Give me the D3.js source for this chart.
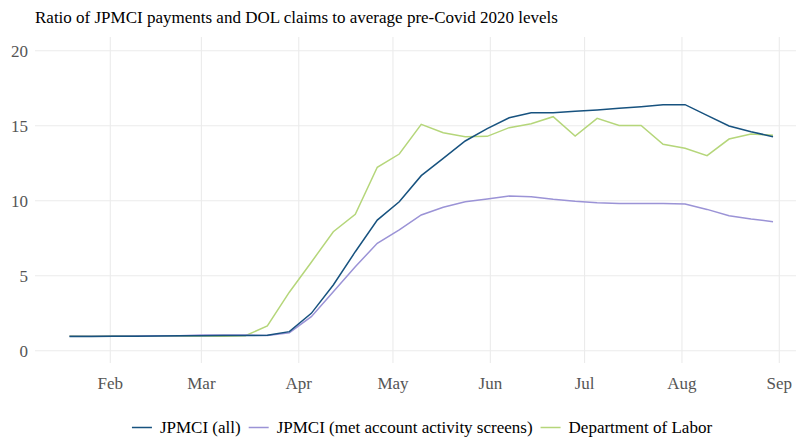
<!DOCTYPE html>
<html>
<head>
<meta charset="utf-8">
<script src="https://cdn.jsdelivr.net/npm/d3@7"></script>
<style>
  body { margin: 0; background: #fff; }
  svg { display: block; }
  svg text { font-family: "Liberation Serif", serif; }
</style>
</head>
<body>
<svg></svg>
<script>
// weekly dates (Sundays), 2020
const dates = ["2020-01-19","2020-01-26","2020-02-02","2020-02-09","2020-02-16","2020-02-23",
  "2020-03-01","2020-03-08","2020-03-15","2020-03-22","2020-03-29","2020-04-05","2020-04-12",
  "2020-04-19","2020-04-26","2020-05-03","2020-05-10","2020-05-17","2020-05-24","2020-05-31",
  "2020-06-07","2020-06-14","2020-06-21","2020-06-28","2020-07-05","2020-07-12","2020-07-19",
  "2020-07-26","2020-08-02","2020-08-09","2020-08-16","2020-08-23","2020-08-30"];

const jpmciAll = [0.95,0.95,0.96,0.97,0.98,0.99,1.0,1.01,1.01,1.03,1.27,2.49,4.38,6.6,8.71,9.93,
  11.67,12.82,13.98,14.8,15.53,15.87,15.87,15.96,16.05,16.16,16.27,16.4,16.4,15.69,14.98,14.6,14.27];
const jpmciScreened = [0.96,0.96,0.97,0.98,0.99,1.0,1.05,1.05,1.04,1.01,1.2,2.27,3.93,5.6,7.16,8.05,
  9.05,9.56,9.93,10.11,10.31,10.27,10.09,9.96,9.87,9.82,9.82,9.82,9.78,9.42,9.0,8.78,8.6];
const dol = [0.99,0.98,0.99,0.99,0.98,0.97,0.98,0.97,1.0,1.65,3.9,5.9,7.93,9.09,12.23,13.11,
  15.09,14.53,14.27,14.29,14.87,15.13,15.6,14.31,15.49,15.02,15.02,13.76,13.49,13.0,14.11,14.45,14.36];

const seriesNames = ["JPMCI (all)", "JPMCI (met account activity screens)", "Department of Labor"];
const seriesColors = ["#17527f", "#9b93d6", "#b5d67a"];
const yTicks = [0, 5, 10, 15, 20];
const monthTicks = ["2020-02-01","2020-03-01","2020-04-01","2020-05-01","2020-06-01","2020-07-01","2020-08-01","2020-09-01"];

const W = 796, H = 437;
const svg = d3.select("svg").attr("width", W).attr("height", H);

const parse = d3.timeParse("%Y-%m-%d");
const x = d3.scaleTime()
  .domain([parse("2020-02-01"), parse("2020-09-01")])
  .range([110.3, 779.3]);
const y = d3.scaleLinear().domain([0, 20]).range([350.7, 50.7]);

const plotLeft = 35, plotRight = 796, plotTop = 37, plotBottom = 363;

// gridlines
svg.append("g").selectAll("line")
  .data(yTicks).join("line")
  .attr("x1", plotLeft).attr("x2", plotRight)
  .attr("y1", d => y(d)).attr("y2", d => y(d))
  .attr("stroke", "#ebebeb").attr("stroke-width", 1.1);

svg.append("g").selectAll("line")
  .data(monthTicks).join("line")
  .attr("x1", d => x(parse(d))).attr("x2", d => x(parse(d)))
  .attr("y1", plotTop).attr("y2", plotBottom)
  .attr("stroke", "#ebebeb").attr("stroke-width", 1.1);

// axes labels
svg.append("g").selectAll("text")
  .data(yTicks).join("text")
  .attr("x", 28).attr("y", d => y(d) + 6)
  .attr("text-anchor", "end")
  .attr("font-size", 17).attr("fill", "#555")
  .text(d => d);

svg.append("g").selectAll("text")
  .data(monthTicks).join("text")
  .attr("x", d => x(parse(d))).attr("y", 389)
  .attr("text-anchor", "middle")
  .attr("font-size", 17).attr("fill", "#555")
  .text(d => d3.timeFormat("%b")(parse(d)));

// lines
const allSeries = [jpmciAll, jpmciScreened, dol];
const line = d3.line()
  .x((d, i) => x(parse(dates[i])))
  .y(d => y(d));

// draw DOL first, then screened, then all on top
[2, 1, 0].forEach(function(k) {
  svg.append("path")
    .datum(allSeries[k])
    .attr("d", line)
    .attr("fill", "none")
    .attr("stroke", seriesColors[k])
    .attr("stroke-width", 1.5);
});

// title
svg.append("text")
  .attr("x", 35).attr("y", 23)
  .attr("font-size", 17).attr("fill", "#000")
  .text("Ratio of JPMCI payments and DOL claims to average pre-Covid 2020 levels");

// legend
const legend = svg.append("g").attr("transform", "translate(0,433)");
const items = [];
seriesNames.forEach(function(name, i) {
  const g = legend.append("g");
  g.append("line").attr("x1", 0).attr("x2", 20).attr("y1", -5.5).attr("y2", -5.5)
    .attr("stroke", seriesColors[i]).attr("stroke-width", 1.5);
  const t = g.append("text").attr("x", 28).attr("y", 0)
    .attr("font-size", 17).attr("fill", "#000").text(name);
  const w = 28 + t.node().getComputedTextLength();
  items.push({ g: g, w: w });
});
const gap = 8;
const total = d3.sum(items, d => d.w) + gap * (items.length - 1);
let lx = (W - total) / 2 + 24;
items.forEach(function(it) {
  it.g.attr("transform", "translate(" + lx + ",0)");
  lx += it.w + gap;
});
</script>
</body>
</html>
